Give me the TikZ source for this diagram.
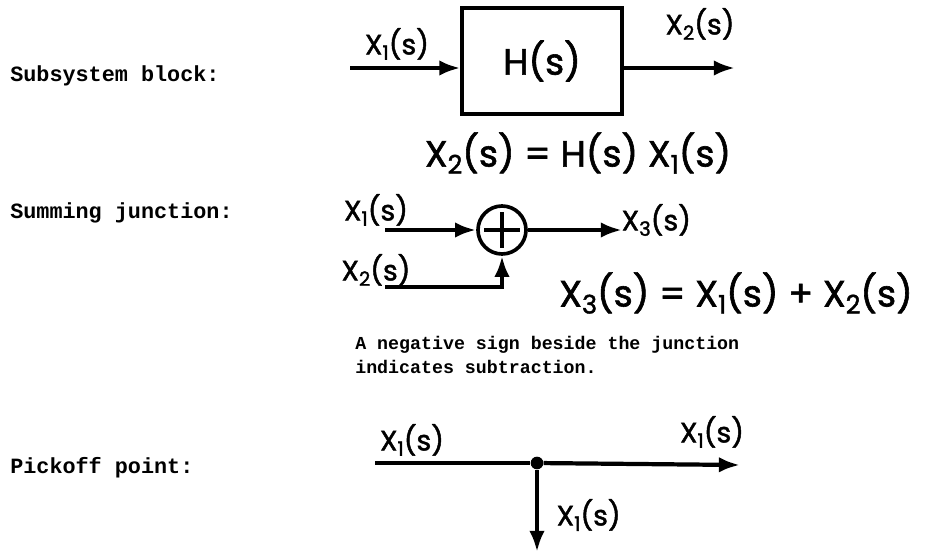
\documentclass[tikz,border=0pt]{standalone}
\usepackage{fontspec}
\setmonofont{Liberation Mono}
\newfontfamily\handfont[FakeBold=1.6]{Poppins}
\usetikzlibrary{positioning,arrows.meta,calc}
\tikzset{
  rowlbl/.style={font=\ttfamily\bfseries\fontsize{15.5}{17}\selectfont, anchor=west, inner sep=0pt},
  note/.style={font=\ttfamily\bfseries\fontsize{13}{17}\selectfont, anchor=west, align=left, inner sep=0pt},
  hand/.style={font=\handfont\fontsize{20}{22}\selectfont, inner sep=1pt},
  eqn/.style={font=\handfont\fontsize{26}{28}\selectfont, inner sep=1pt},
  blkbox/.style={draw, line width=2.2pt, minimum width=4cm, minimum height=2.65cm,
                 font=\handfont\fontsize{26}{28}\selectfont},
  sumj/.style={circle, draw, line width=2.6pt, minimum size=1.2cm, inner sep=0pt},
  dotn/.style={circle, fill, minimum size=9pt, inner sep=0pt},
  wire/.style={line width=3pt},
  sig/.style={wire, -{Latex[length=15pt,width=11pt]}},
}
\newcommand{\Xsub}[1]{X\raisebox{-0.35ex}{\scalebox{0.7}{#1}}}

\begin{document}
\begin{tikzpicture}[x=0.025cm, y=-0.025cm]
  \useasboundingbox (0,0) rectangle (932,553);
  % row labels
  \node[rowlbl] (lsub) at (10,76) {Subsystem block:};
  \node[rowlbl] (lsum) at (10,213) {Summing junction:};
  \node[rowlbl] (lpick) at (10,468) {Pickoff point:};

  % subsystem block
  \node[blkbox] (H) at (542,61) {H(s)};
  \coordinate (hin) at (350,68);
  \coordinate (hout) at (735,68);
  \draw[sig] (hin) -- (H.west |- hin);
  \draw[sig] (H.east |- hout) -- (hout);
  \node[hand] (hx1) at (397,44) {\Xsub{1}(s)};
  \node[hand] (hx2) at (700,24) {\Xsub{2}(s)};
  \node[eqn] (eq1) at (578,153) {\Xsub{2}(s) = H(s) \Xsub{1}(s)};

  % summing junction
  \node[sumj] (S) at (502,230) {};
  \draw[wire] ($(S.center)+(-18,0)$) -- ($(S.center)+(18,0)$);
  \draw[wire] ($(S.center)+(0,-18)$) -- ($(S.center)+(0,18)$);
  \coordinate (s1) at (385,230);
  \coordinate (s2) at (385,287);
  \coordinate (s3) at (622,230);
  \draw[sig] (s1) -- (S.west);
  \draw[sig] (S.east) -- (s3);
  \draw[sig] (s2) -| (S.south);
  \node[hand] (sx1) at (376,210) {\Xsub{1}(s)};
  \node[hand] (sx2) at (376,270) {\Xsub{2}(s)};
  \node[hand, anchor=west] (sx3) at (620,220) {\Xsub{3}(s)};
  \node[eqn] (eq2) at (736,293) {\Xsub{3}(s) = \Xsub{1}(s) + \Xsub{2}(s)};
  \node[note] (nt) at (355,355) {A negative sign beside the junction\\indicates subtraction.};

  % pickoff point
  \node[dotn] (P) at (537,463) {};
  \coordinate (p0) at (375,463);
  \coordinate (p1) at (740,465);
  \coordinate (p2) at (537,552);
  \draw[wire] (p0) -- (P);
  \draw[sig] (P) -- (p1);
  \draw[sig] (P) -- (p2);
  \node[hand] (px1) at (412,440) {\Xsub{1}(s)};
  \node[hand] (px2) at (712,432) {\Xsub{1}(s)};
  \node[hand, anchor=west] (px3) at (555,515) {\Xsub{1}(s)};
\end{tikzpicture}
\end{document}
